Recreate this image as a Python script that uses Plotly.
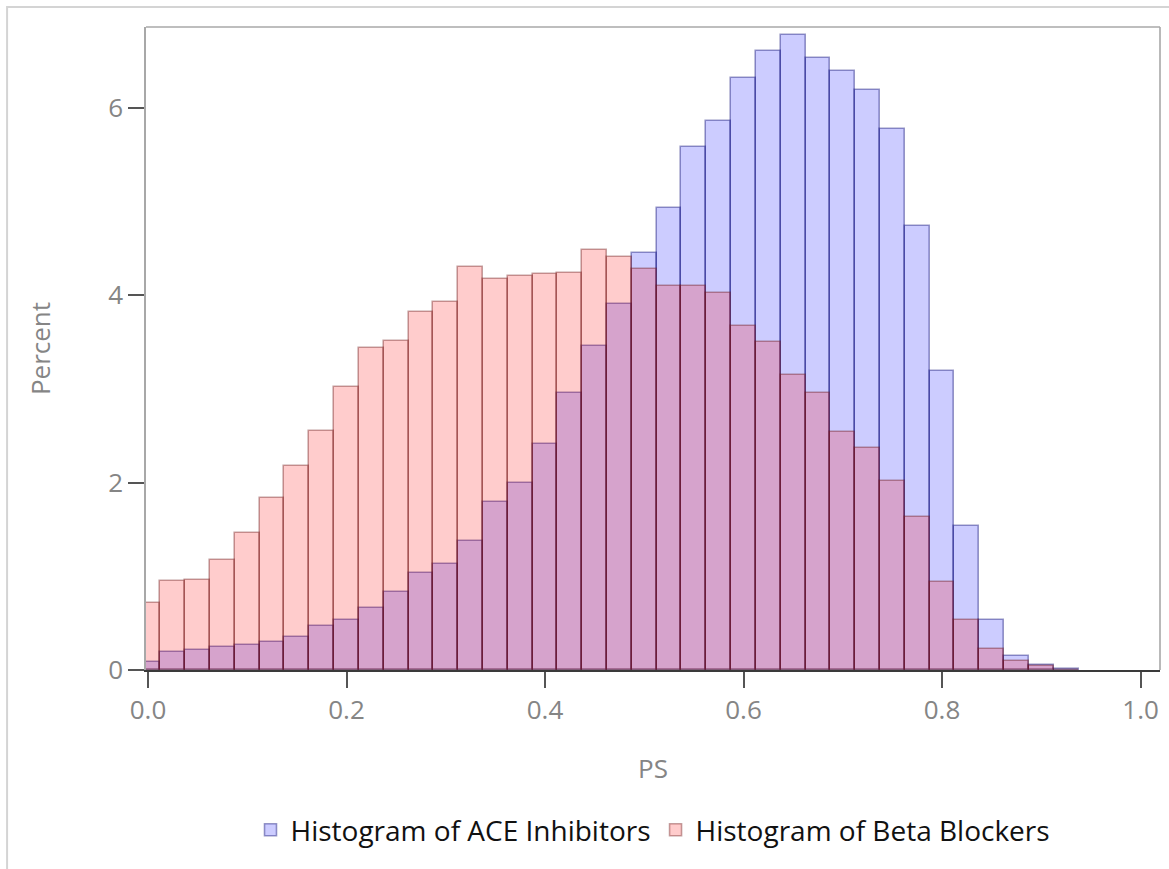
import plotly.graph_objects as go

# Propensity-score bins: centres every 0.025 from 0.0 to 0.925
bin_width = 0.025
ps_bins = [round(i * bin_width, 4) for i in range(38)]

# Percent of each treatment group falling in each PS bin
ace_percent = [
    0.09, 0.19, 0.21, 0.25, 0.27, 0.30, 0.35, 0.47, 0.53, 0.66,
    0.83, 1.03, 1.13, 1.38, 1.79, 1.99, 2.41, 2.96, 3.46, 3.90,
    4.45, 4.93, 5.58, 5.86, 6.32, 6.60, 6.77, 6.53, 6.39, 6.19,
    5.77, 4.74, 3.19, 1.54, 0.53, 0.15, 0.05, 0.01,
]
beta_percent = [
    0.72, 0.95, 0.96, 1.17, 1.46, 1.84, 2.18, 2.55, 3.02, 3.43,
    3.51, 3.82, 3.93, 4.30, 4.17, 4.20, 4.22, 4.23, 4.48, 4.41,
    4.28, 4.10, 4.10, 4.02, 3.67, 3.50, 3.15, 2.96, 2.54, 2.37,
    2.02, 1.63, 0.94, 0.53, 0.22, 0.10, 0.04, 0.005,
]

x_ticks = [0.0, 0.2, 0.4, 0.6, 0.8, 1.0]
x_tick_text = ["0.0", "0.2", "0.4", "0.6", "0.8", "1.0"]
y_ticks = [0, 2, 4, 6]

FONT = "Open Sans"
GREY_TEXT = "#858585"

fig = go.Figure()
fig.add_trace(go.Bar(
    x=ps_bins, y=ace_percent, width=bin_width,
    name="Histogram of ACE Inhibitors",
    marker=dict(color="rgba(0,0,255,0.2)",
                line=dict(color="rgba(0,0,110,0.4)", width=1.6)),
))
fig.add_trace(go.Bar(
    x=ps_bins, y=beta_percent, width=bin_width,
    name="Histogram of Beta Blockers",
    marker=dict(color="rgba(255,0,0,0.2)",
                line=dict(color="rgba(100,10,10,0.38)", width=1.6)),
))

fig.update_layout(
    width=1169, height=869,
    margin=dict(l=146, r=9, t=27, b=199),
    barmode="overlay", bargap=0,
    paper_bgcolor="white", plot_bgcolor="white",
    font=dict(family=FONT, size=26, color=GREY_TEXT),
    showlegend=True,
    legend=dict(
        orientation="h", x=0.5, xanchor="center", y=-0.249, yanchor="middle",
        font=dict(family=FONT, size=28, color="#111111"),
        traceorder="normal", itemwidth=30,
    ),
    xaxis=dict(
        range=[-0.002, 1.0196], tickvals=x_ticks, ticktext=x_tick_text,
        showgrid=False, zeroline=False,
        showline=True, linecolor="#3a3a3a", linewidth=1.6,
        ticks="outside", ticklen=16, tickwidth=1.6, tickcolor="#555555",
        tickfont=dict(family=FONT, size=26, color=GREY_TEXT),
        title=dict(text="PS", font=dict(family=FONT, size=26, color=GREY_TEXT),
                   standoff=34),
    ),
    yaxis=dict(
        range=[0, 6.859], tickvals=y_ticks,
        showgrid=False, zeroline=False,
        showline=True, linecolor="#a8a8a8", linewidth=1.6,
        ticks="outside", ticklen=16, tickwidth=1.6, tickcolor="#555555",
        tickfont=dict(family=FONT, size=26, color=GREY_TEXT),
        title=dict(text="Percent", font=dict(family=FONT, size=26, color=GREY_TEXT),
                   standoff=50),
    ),
    shapes=[
        # top and right edges of the plotting frame
        dict(type="line", xref="paper", yref="paper", x0=0, x1=1, y0=1, y1=1,
             line=dict(color="#a8a8a8", width=1.6)),
        dict(type="line", xref="paper", yref="paper", x0=1, x1=1, y0=0, y1=1,
             line=dict(color="#a8a8a8", width=1.6)),
        # outer panel border
        dict(type="rect", xref="paper", yref="paper",
             x0=-0.137, x1=1.05, y0=-0.35, y1=1.031,
             line=dict(color="#d4d4d4", width=2)),
    ],
)

fig.write_html("out.html")
